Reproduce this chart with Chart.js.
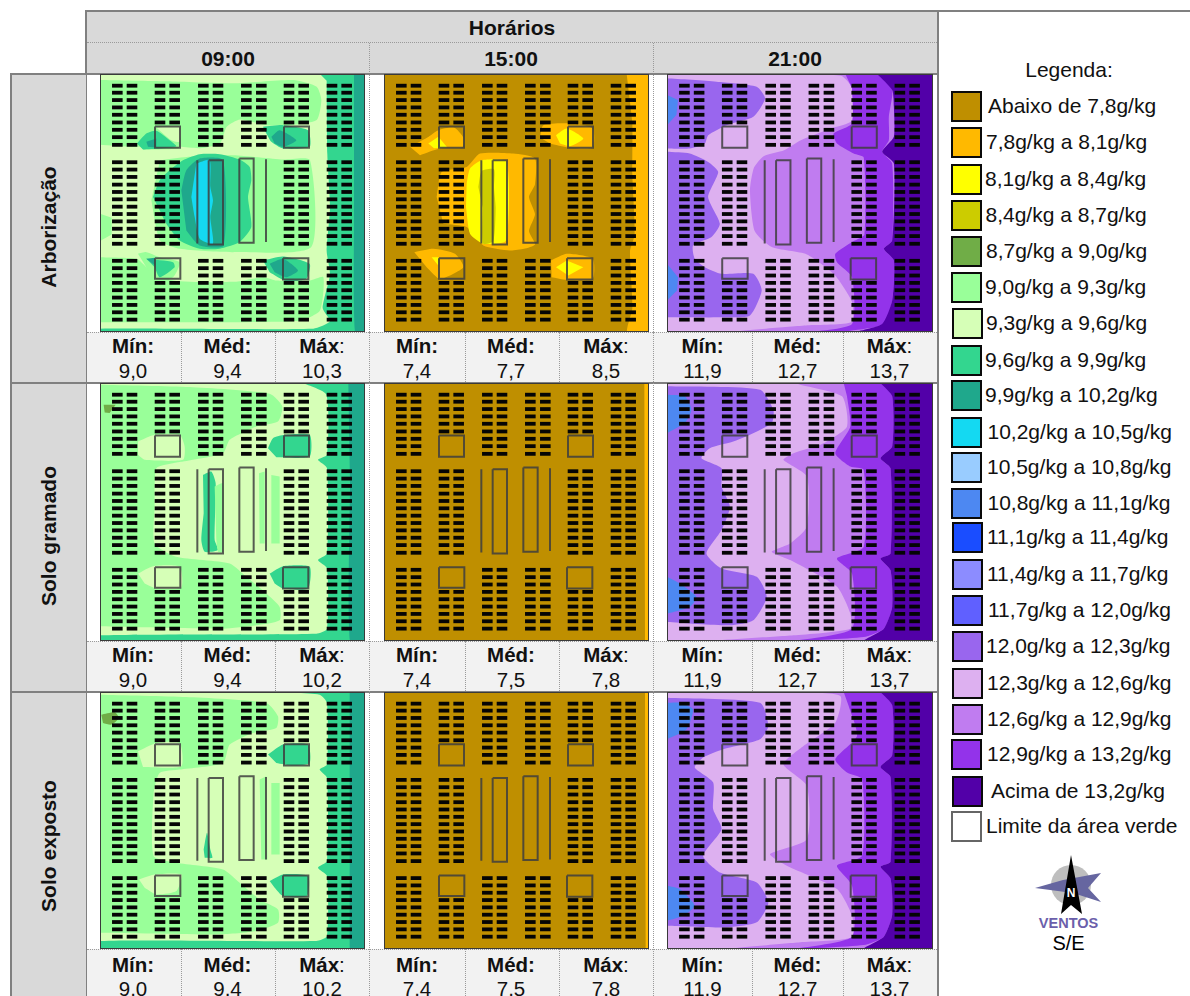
<!DOCTYPE html>
<html lang="pt-BR">
<head>
<meta charset="utf-8">
<title>Umidade absoluta por horário</title>
<script src="https://cdn.jsdelivr.net/npm/chart.js@4"></script>
<style>
html, body { margin: 0; padding: 0; background: #fff; }
body { position: relative; width: 1190px; height: 996px; overflow: hidden; font-family: "Liberation Sans", Arial, sans-serif; color: #111; }
.bloco { position: absolute; box-sizing: border-box; }
.texto { position: absolute; transform: translate(-50%, -50%); white-space: nowrap; font-size: 20.5px; line-height: 1; }
.forte { font-weight: bold; font-size: 21px; }
.vertical { transform: translate(-50%, -50%) rotate(-90deg); }
.legenda-texto { position: absolute; transform: translateY(-50%); white-space: nowrap; font-size: 21px; line-height: 1; }
canvas { position: absolute; outline: 1px solid #3a3a3a; outline-offset: -1px; }
</style>
</head>
<body>
<script>
var horarios = ['09:00', '15:00', '21:00'];
var tratamentos = ['Arborização', 'Solo gramado', 'Solo exposto'];
var minimos = [['9,0', '7,4', '11,9'], ['9,0', '7,4', '11,9'], ['9,0', '7,4', '11,9']];
var medias = [['9,4', '7,7', '12,7'], ['9,4', '7,5', '12,7'], ['9,4', '7,5', '12,7']];
var maximos = [['10,3', '8,5', '13,7'], ['10,2', '7,8', '13,7'], ['10,2', '7,8', '13,7']];

var classes = ['Abaixo de 7,8g/kg', '7,8g/kg a 8,1g/kg', '8,1g/kg a 8,4g/kg', '8,4g/kg a 8,7g/kg', '8,7g/kg a 9,0g/kg',
    '9,0g/kg a 9,3g/kg', '9,3g/kg a 9,6g/kg', '9,6g/kg a 9,9g/kg', '9,9g/kg a 10,2g/kg', '10,2g/kg a 10,5g/kg',
    '10,5g/kg a 10,8g/kg', '10,8g/kg a 11,1g/kg', '11,1g/kg a 11,4g/kg', '11,4g/kg a 11,7g/kg', '11,7g/kg a 12,0g/kg',
    '12,0g/kg a 12,3g/kg', '12,3g/kg a 12,6g/kg', '12,6g/kg a 12,9g/kg', '12,9g/kg a 13,2g/kg', 'Acima de 13,2g/kg'];
var cores = ['#BF8F00', '#FFB900', '#FFFF00', '#CCCC00', '#70AD47', '#99FF99', '#D6FFB7', '#33D68F', '#1FA88C', '#14D9F2',
    '#99CCFF', '#4D88F2', '#1A4DFF', '#8C8CFF', '#6060FF', '#9966EE', '#DDB0F0', '#C07CF0', '#9333EA', '#5200A8'];

// zonas de cada mapa: [classe, x, y, x, y, ...] em unidades do mapa (795 x 772), do fundo para a frente
var inteiro = [0, 0, 795, 0, 795, 772, 0, 772];

var arb09 = [
    [6].concat(inteiro),
    [5, 0, 18, 200, 22, 400, 28, 580, 18, 650, 38, 664, 78, 650, 138, 570, 153, 500, 153, 420, 136, 380, 158, 360, 208, 300, 222, 240, 218, 100, 218, 0, 212],
    [5, 0, 548, 110, 553, 140, 578, 220, 618, 400, 622, 490, 608, 530, 618, 630, 618, 670, 608, 660, 708, 600, 738, 200, 743, 0, 743],
    [5, 0, 418, 35, 430, 35, 480, 0, 500],
    [5, 180, 258, 260, 248, 400, 243, 550, 256, 630, 258, 634, 518, 400, 533, 240, 523, 180, 498, 154, 378],
    [7, 660, 0, 795, 0, 795, 772, 0, 772, 0, 762, 640, 762, 690, 740, 668, 700, 690, 600, 680, 530, 690, 400, 682, 240, 680, 20],
    [8, 762, 0, 795, 0, 795, 772, 765, 772, 762, 400],
    [7, 159, 368, 179, 318, 209, 288, 249, 258, 299, 240, 359, 240, 419, 256, 449, 278, 454, 318, 444, 368, 454, 458, 419, 503, 359, 523, 299, 523, 239, 498, 199, 448, 179, 408],
    [8, 244, 348, 259, 288, 299, 253, 369, 258, 371, 513, 299, 513, 259, 468],
    [9, 289, 268, 329, 258, 331, 338, 339, 378, 331, 428, 339, 508, 299, 493, 284, 428, 274, 368],
    [5, 110, 208, 139, 178, 170, 160, 240, 200, 235, 222, 130, 226],
    [7, 111, 208, 139, 178, 169, 170, 209, 198, 229, 216, 179, 223, 129, 226],
    [8, 139, 203, 169, 193, 169, 220, 144, 218],
    [6, 169, 160, 239, 158, 239, 203, 214, 198, 189, 178],
    [7, 489, 158, 549, 153, 624, 168, 629, 218, 549, 223, 514, 203, 499, 178],
    [8, 514, 188, 539, 168, 589, 198, 549, 218, 524, 208],
    [5, 114, 538, 139, 533, 179, 548, 239, 563, 219, 608, 169, 616, 139, 578],
    [7, 139, 553, 219, 563, 224, 578, 179, 608, 164, 578],
    [8, 139, 553, 165, 550, 165, 573],
    [7, 489, 558, 549, 546, 629, 568, 619, 613, 559, 620, 509, 593],
    [8, 509, 568, 549, 553, 594, 588, 559, 608, 524, 593]
];

var arb15 = [
    [0].concat(inteiro),
    [1, 728, 0, 795, 0, 795, 772, 730, 772, 745, 700, 738, 530, 752, 480, 745, 300, 745, 150, 735, 60],
    [1, 78, 218, 130, 190, 163, 168, 210, 160, 238, 190, 235, 220, 168, 223, 108, 243],
    [2, 133, 208, 163, 188, 190, 220, 150, 222],
    [1, 468, 190, 478, 153, 558, 148, 626, 163, 626, 220, 553, 220, 498, 208],
    [2, 516, 183, 548, 163, 598, 193, 558, 216, 528, 208],
    [1, 91, 533, 148, 523, 213, 538, 238, 578, 168, 613, 128, 578],
    [2, 143, 548, 163, 548, 163, 573],
    [1, 501, 558, 548, 538, 626, 553, 626, 613, 548, 616, 503, 608],
    [2, 516, 578, 548, 558, 598, 578, 553, 603],
    [1, 158, 368, 173, 293, 248, 278, 288, 238, 388, 238, 453, 253, 453, 330, 435, 368, 453, 420, 435, 470, 453, 510, 420, 523, 378, 528, 298, 513, 248, 458, 178, 448],
    [2, 248, 328, 258, 283, 293, 258, 368, 263, 366, 498, 298, 508, 258, 478, 246, 398],
    [3, 283, 338, 293, 290, 330, 285, 330, 340, 335, 400, 328, 500, 298, 508, 296, 400]
];

var gram15 = [
    [0].concat(inteiro),
    [1, 781, 0, 795, 0, 795, 772, 783, 772]
];

var exp15 = [
    [0].concat(inteiro),
    [1, 783, 0, 795, 0, 795, 772, 785, 772]
];

// a faixa mais úmida à direita é igual nos dois mapas de solo às 21:00
var acima21 = [19, 638, 0, 673, 40, 673, 190, 638, 225, 668, 255, 668, 510, 638, 525, 668, 560, 673, 670, 648, 735, 588, 772, 795, 772, 795, 0];

var arb21 = [
    [16].concat(inteiro),
    [15, 0, 13, 148, 23, 268, 38, 293, 73, 258, 128, 178, 153, 123, 183, 113, 208, 68, 223, 0, 223],
    [15, 0, 233, 68, 238, 123, 263, 153, 293, 123, 368, 158, 448, 133, 488, 78, 513, 83, 553, 113, 578, 163, 598, 258, 598, 283, 648, 248, 723, 178, 728, 0, 728],
    [11, 0, 63, 33, 78, 28, 123, 0, 153],
    [11, 0, 568, 33, 608, 30, 648, 0, 678],
    [17, 370, 0, 520, 5, 552, 40, 552, 140, 490, 163, 400, 198, 350, 228, 290, 245, 260, 280, 248, 348, 262, 470, 313, 518, 418, 540, 500, 600, 552, 680, 552, 742, 420, 752, 200, 772, 795, 772, 795, 0],
    [18, 533, 0, 628, 0, 673, 48, 663, 128, 663, 198, 643, 233, 673, 268, 673, 498, 648, 523, 678, 558, 673, 678, 648, 748, 548, 768, 428, 772, 553, 748, 553, 608, 508, 563, 503, 538, 558, 500, 590, 480, 588, 250, 558, 238, 508, 208, 498, 178, 553, 148, 553, 43],
    [19, 628, 0, 673, 48, 678, 98, 678, 188, 643, 233, 678, 268, 673, 498, 648, 523, 678, 558, 673, 678, 643, 748, 568, 772, 795, 772, 795, 0]
];

var gram09 = [
    [6].concat(inteiro),
    [5, 0, 5, 269, 12, 509, 32, 547, 70, 534, 115, 469, 130, 389, 170, 369, 210, 249, 235, 219, 240, 169, 255, 164, 370, 164, 480, 229, 520, 389, 540, 439, 580, 499, 630, 539, 670, 539, 710, 469, 725, 369, 735, 0, 728],
    [6, 114, 175, 164, 155, 239, 155, 254, 190, 249, 230, 134, 230, 114, 215],
    [6, 114, 570, 159, 548, 239, 550, 244, 612, 169, 615, 134, 600],
    [4, 11, 65, 47, 65, 29, 90, 14, 88],
    [7, 504, 195, 519, 165, 554, 155, 629, 155, 629, 220, 529, 222],
    [7, 509, 570, 549, 548, 629, 550, 624, 615, 549, 615, 524, 600],
    [7, 309, 275, 334, 265, 347, 300, 344, 470, 354, 500, 314, 505, 304, 470, 311, 390],
    [5, 344, 310, 369, 300, 369, 505, 354, 505, 349, 470],
    [5, 477, 270, 494, 265, 494, 480, 479, 480],
    [5, 514, 275, 539, 280, 539, 480, 514, 480],
    [7, 609, 0, 679, 35, 681, 215, 654, 230, 681, 255, 681, 510, 654, 530, 681, 555, 681, 735, 649, 750, 0, 755, 0, 772, 795, 772, 795, 0],
    [8, 745, 0, 795, 0, 795, 772, 750, 772, 750, 300]
];

var gram21 = [
    [16].concat(inteiro),
    [15, 0, 10, 278, 20, 318, 80, 313, 120, 248, 155, 198, 175, 128, 195, 103, 225, 163, 255, 163, 310, 188, 370, 163, 440, 118, 510, 163, 555, 268, 580, 298, 640, 258, 710, 188, 725, 0, 715],
    [11, 0, 35, 53, 40, 73, 80, 53, 120, 0, 150],
    [11, 0, 580, 38, 600, 88, 640, 68, 670, 0, 690],
    [17, 380, 0, 398, 5, 523, 40, 538, 130, 468, 180, 378, 210, 348, 230, 418, 280, 418, 430, 368, 480, 313, 505, 368, 530, 508, 610, 548, 690, 548, 735, 378, 755, 138, 772, 795, 772, 795, 0],
    [18, 528, 0, 638, 0, 673, 40, 673, 190, 638, 225, 668, 255, 668, 510, 638, 525, 668, 560, 673, 670, 648, 735, 588, 760, 378, 772, 553, 735, 553, 570, 508, 525, 588, 490, 588, 260, 548, 250, 503, 210, 548, 130, 538, 40],
    acima21
];

var exp09 = [
    [6].concat(inteiro),
    [5, 0, 8, 259, 15, 499, 33, 534, 73, 529, 108, 459, 123, 389, 158, 369, 213, 239, 233, 179, 243, 161, 303, 161, 493, 229, 513, 369, 533, 419, 573, 479, 623, 534, 653, 534, 693, 469, 718, 359, 728, 0, 723],
    [6, 114, 178, 169, 153, 239, 153, 244, 223, 129, 225],
    [6, 117, 563, 164, 548, 244, 548, 229, 598, 169, 608, 134, 588],
    [4, 4, 68, 44, 61, 57, 78, 34, 98, 9, 93],
    [7, 504, 188, 549, 158, 624, 158, 629, 213, 579, 221, 529, 213],
    [7, 509, 568, 549, 548, 624, 553, 621, 613, 549, 613, 524, 588],
    [7, 311, 473, 321, 423, 331, 473, 337, 498, 314, 498],
    [5, 479, 263, 499, 253, 502, 503, 484, 503],
    [5, 514, 273, 539, 273, 539, 488, 514, 488],
    [7, 499, 0, 659, 8, 681, 33, 681, 218, 659, 233, 681, 258, 681, 508, 654, 528, 681, 553, 681, 733, 649, 748, 0, 748, 0, 772, 795, 772, 795, 0],
    [8, 749, 0, 795, 0, 795, 772, 749, 772]
];

var exp21 = [
    [16].concat(inteiro),
    [15, 0, 17, 278, 32, 303, 102, 278, 142, 168, 172, 108, 197, 83, 227, 138, 272, 138, 352, 163, 412, 108, 492, 158, 542, 268, 572, 303, 632, 268, 692, 178, 707, 0, 702],
    [11, 0, 32, 38, 32, 78, 52, 58, 112, 0, 142],
    [11, 0, 582, 38, 592, 83, 642, 48, 672, 0, 687],
    [17, 380, 0, 518, 12, 503, 92, 408, 162, 348, 217, 418, 282, 418, 442, 308, 487, 358, 522, 508, 592, 553, 672, 553, 737, 398, 752, 188, 772, 795, 772, 795, 0],
    [18, 528, 0, 638, 0, 673, 40, 673, 190, 638, 225, 668, 255, 668, 510, 638, 525, 668, 560, 673, 670, 648, 735, 588, 760, 378, 772, 553, 735, 553, 582, 508, 522, 583, 492, 583, 262, 538, 242, 503, 202, 568, 132, 543, 42],
    acima21
];

var mapas = [[arb09, arb15, arb21], [gram09, gram15, gram21], [exp09, exp15, exp21]];

// edificações: centro de cada traço preto
var prediosX = [52, 96, 180, 224, 310, 354, 439, 484, 567, 611, 696, 740];
var fileiras1 = [35, 56, 78, 100, 122, 145, 167, 189, 212];
var fileiras2 = [264, 286, 308, 331, 353, 375, 397, 419, 441, 463, 485, 508];
var fileiras3 = [559, 581, 603, 625, 647, 669, 691, 713, 735];

// limites da área verde: quatro praças, dois canteiros e duas linhas
var areasVerdes = [
    [165, 157, 240, 157, 240, 221, 165, 221],
    [552, 157, 627, 157, 627, 221, 552, 221],
    [165, 551, 241, 551, 241, 613, 165, 613],
    [549, 551, 625, 551, 625, 615, 549, 615],
    [326, 258, 369, 258, 369, 510, 326, 510],
    [418, 253, 461, 253, 461, 505, 418, 505],
    [292, 258, 292, 507],
    [498, 255, 498, 503]
];

function paraPontos(plano) {
    var pontos = [];
    for (var i = 0; i < plano.length; i += 2) {
        pontos.push({ x: plano[i], y: plano[i + 1] });
    }
    return pontos;
}

function pontosPredios() {
    var pontos = [];
    for (var c = 0; c < prediosX.length; c++) {
        var x = prediosX[c];
        var grupo = Math.floor(c / 2);
        var temPraca = grupo == 1 || grupo == 4;
        var lista1 = temPraca ? fileiras1.slice(0, 6) : fileiras1;
        var lista3 = temPraca ? fileiras3.slice(3) : fileiras3;
        var lista2 = (grupo == 2 || grupo == 3) ? [] : fileiras2;
        lista1.concat(lista2, lista3).forEach(function (y) {
            pontos.push({ x: x, y: y });
        });
    }
    return pontos;
}

function montarDatasets(zonas) {
    // o primeiro dataset fica por cima de todos
    var datasets = [{
        data: pontosPredios(),
        pointStyle: 'line',
        pointRadius: 5.3,
        pointBorderWidth: 3.8,
        pointBorderColor: '#050505',
        pointBackgroundColor: '#050505'
    }];
    areasVerdes.forEach(function (area) {
        var pontos = paraPontos(area);
        if (pontos.length > 2) pontos.push(pontos[0]);
        datasets.push({
            data: pontos,
            showLine: true,
            borderColor: 'rgba(62, 62, 62, 0.85)',
            borderWidth: 2,
            pointRadius: 0,
            tension: 0
        });
    });
    for (var i = zonas.length - 1; i >= 0; i--) {
        datasets.push({
            data: paraPontos(zonas[i].slice(1)),
            showLine: true,
            fill: 'shape',
            backgroundColor: cores[zonas[i][0]],
            borderWidth: 0,
            pointRadius: 0,
            tension: zonas[i].length > 9 ? 0.2 : 0
        });
    }
    return datasets;
}

function caixa(x, y, w, h, estilo) {
    var d = document.createElement('div');
    d.className = 'bloco';
    d.style.cssText = 'left:' + x + 'px;top:' + y + 'px;width:' + w + 'px;height:' + h + 'px;' + (estilo || '');
    document.body.appendChild(d);
    return d;
}

function texto(t, x, y, classe, estilo) {
    var d = document.createElement('div');
    d.className = classe || 'texto';
    d.innerHTML = t;
    d.style.left = x + 'px';
    d.style.top = y + 'px';
    if (estilo) d.style.cssText += estilo;
    document.body.appendChild(d);
    return d;
}

var colunasX = [100, 384, 667];
var colunasL = [265, 265, 266];
var linhasY = [74, 383, 692];
var linhasA = [258, 258, 257];
var centrosHora = [228, 511, 795];
var centrosEstat = [[133, 227.5, 322], [417, 511, 606], [702.5, 797.5, 889.5]];
var divisoes = [[180.5, 275], [464.5, 558.5], [751.5, 842.5]];
var estatTopo = [332, 641, 949];
var estatFim = [382, 691, 1000];
var rotuloY = [345.5, 655, 965];
var valorY = [371, 680, 988.5];
var centrosTratamento = [227, 536, 845.5];
var CINZA = '#808080';
var PONTILHADO = '1px dotted #9a9a9a';

function montarTabela() {
    caixa(87, 12, 850, 62, 'background:#D9D9D9');
    caixa(86, 10, 1104, 2, 'background:' + CINZA);
    caixa(85, 10, 2, 986, 'background:' + CINZA);
    caixa(936.5, 10, 2, 986, 'background:' + CINZA);
    caixa(87, 42, 850, 1, 'border-top:' + PONTILHADO);
    caixa(369, 43, 1, 953, 'border-left:' + PONTILHADO);
    caixa(652.5, 43, 1, 953, 'border-left:' + PONTILHADO);
    texto('Horários', 512, 26.5, 'texto forte');
    horarios.forEach(function (h, c) {
        texto(h, centrosHora[c], 58, 'texto forte');
    });

    tratamentos.forEach(function (nome, l) {
        var topo = l == 0 ? 73 : estatFim[l - 1];
        var fim = estatFim[l];
        caixa(10, topo, 76, fim - topo, 'background:#D9D9D9');
        caixa(10, topo, 76, 2, 'background:' + CINZA);
        caixa(10, topo, 2, fim - topo, 'background:' + CINZA);
        texto(nome, 48, centrosTratamento[l], 'texto forte vertical');
        caixa(87, estatTopo[l], 850, estatFim[l] - estatTopo[l], 'background:#F2F2F2;border-top:' + PONTILHADO);
        caixa(87, estatFim[l], 850, 2, 'background:' + CINZA);
        for (var c = 0; c < 3; c++) {
            var e = centrosEstat[c];
            texto('<b>Mín:</b>', e[0], rotuloY[l]);
            texto('<b>Méd:</b>', e[1], rotuloY[l]);
            texto('<b>Máx</b>:', e[2], rotuloY[l]);
            texto(minimos[l][c], e[0], valorY[l]);
            texto(medias[l][c], e[1], valorY[l]);
            texto(maximos[l][c], e[2], valorY[l]);
            caixa(divisoes[c][0], estatTopo[l], 1, estatFim[l] - estatTopo[l], 'border-left:' + PONTILHADO);
            caixa(divisoes[c][1], estatTopo[l], 1, estatFim[l] - estatTopo[l], 'border-left:' + PONTILHADO);
        }
    });
    caixa(87, 73, 850, 2, 'background:' + CINZA);
    caixa(369, 332, 1, 664, 'border-left:' + PONTILHADO);
    caixa(652.5, 332, 1, 664, 'border-left:' + PONTILHADO);
}

function montarMapas() {
    for (var l = 0; l < 3; l++) {
        for (var c = 0; c < 3; c++) {
            var canvas = document.createElement('canvas');
            canvas.width = colunasL[c];
            canvas.height = linhasA[l];
            canvas.style.left = colunasX[c] + 'px';
            canvas.style.top = linhasY[l] + 'px';
            document.body.appendChild(canvas);
            new Chart(canvas, {
                type: 'scatter',
                data: { datasets: montarDatasets(mapas[l][c]) },
                options: {
                    responsive: false,
                    animation: false,
                    events: [],
                    layout: { padding: 0, autoPadding: false },
                    plugins: { legend: { display: false }, tooltip: { enabled: false } },
                    scales: {
                        x: { type: 'linear', display: false, min: 0, max: 795 },
                        y: { type: 'linear', display: false, min: 0, max: 772, reverse: true }
                    }
                }
            });
        }
    }
}

var legendaY = [91, 127, 164, 200, 235.5, 272, 307.5, 344.5, 380, 416.5, 452, 487.5, 522, 558.5, 594.5, 630.5, 667.5, 704, 739, 775.5];
var legendaQuadX = [951, 951, 951, 951, 951, 951, 952, 951, 951, 951, 951, 951, 952, 952, 952, 952, 952, 952, 951, 952];
var legendaTextoX = [988, 986, 985, 985.5, 986, 985, 986, 985, 985, 987.5, 987, 987.5, 987, 987, 988, 986, 987, 987, 987, 991];
var LADO = 31;

function montarLegenda() {
    texto('Legenda:', 1069, 69, 'texto', 'font-size:21px');
    classes.forEach(function (nome, i) {
        caixa(legendaQuadX[i], legendaY[i], LADO, LADO, 'background:' + cores[i] + ';border:2px solid #0a0a0a');
        texto(nome, legendaTextoX[i], legendaY[i] + LADO / 2 - 1.5, 'legenda-texto');
    });
    caixa(951, 811, LADO, LADO, 'background:#fff;border:2px solid #666');
    texto('Limite da área verde', 986, 825, 'legenda-texto');
}

function montarRosa() {
    var ns = 'xmlns="http://www.w3.org/2000/svg"';
    var d = caixa(1030, 850, 80, 70);
    d.innerHTML = '<svg ' + ns + ' width="80" height="70" viewBox="1030 850 80 70">' +
        '<circle cx="1071" cy="885" r="20" fill="#BEBEBE"/>' +
        '<polygon points="1035,888 1063,880 1101,873 1088,888 1101,902 1073,893" fill="#6666A0"/>' +
        '<polygon points="1071,855 1082,914 1071,905 1061,914" fill="#000"/>' +
        '</svg>';
    texto('N', 1071, 893, 'texto', 'font-size:12px;font-weight:bold;color:#fff');
    texto('VENTOS', 1068.5, 922.5, 'texto', 'font-size:14.5px;font-weight:bold;color:#6B5FAB');
    texto('S/E', 1068.5, 943, 'texto', 'font-size:20px;color:#000');
}

montarTabela();
montarMapas();
montarLegenda();
montarRosa();
</script>
</body>
</html>
